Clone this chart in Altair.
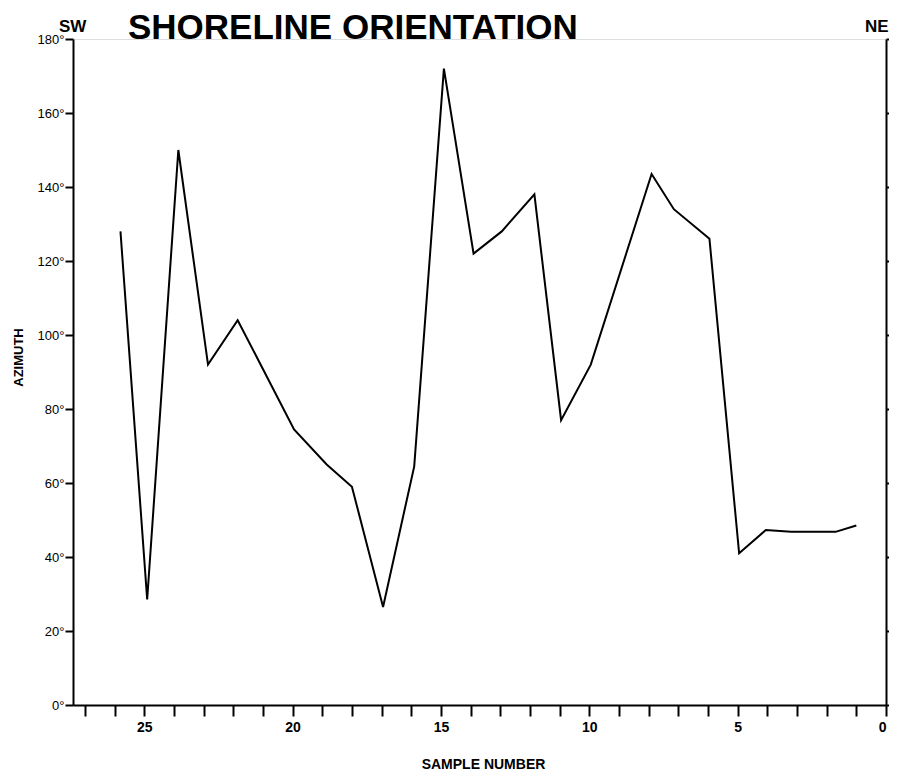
import altair as alt
import pandas as pd

# Data (sample number, azimuth in degrees)
sample = [25.8, 24.9, 23.85, 22.85, 21.85, 19.95, 18.85, 18.0, 16.95, 15.9, 14.9, 13.9,
          12.95, 11.85, 10.95, 9.95, 7.9, 7.15, 5.95, 4.95, 4.05, 3.2, 1.7, 1.0]
azimuth = [128, 28.5, 150, 92, 104, 74.5, 65, 59, 26.5, 64.5, 172, 122,
           128, 138, 77, 92, 143.5, 134, 126, 41, 47.3, 46.8, 46.8, 48.5]

y_ticks = [0, 20, 40, 60, 80, 100, 120, 140, 160, 180]
x_ticks = list(range(0, 28))

title_text = "SHORELINE  ORIENTATION"
left_dir = "SW"
right_dir = "NE"

df = pd.DataFrame({"sample": sample, "azimuth": azimuth})

FONT = "Liberation Sans"

x_enc = alt.X(
    "sample:Q",
    scale=alt.Scale(domain=[0, 27.4], reverse=True, nice=False, zero=False),
    axis=alt.Axis(
        values=x_ticks,
        labelExpr="datum.value % 5 == 0 ? datum.value : ''",
        tickSize=11, tickWidth=2, tickColor="black",
        domainColor="black", domainWidth=2,
        labelFont=FONT, labelFontSize=14, labelFontWeight="bold", labelColor="black",
        labelPadding=4, labelFlush=True, labelOverlap=False,
        grid=False,
        title="SAMPLE NUMBER", titleFont=FONT, titleFontSize=14, titleFontWeight="bold",
        titleColor="black", titleX=410, titleY=63, titleAlign="center",
        titleBaseline="alphabetic", titleAnchor="start",
    ),
)

y_left = alt.Y(
    "azimuth:Q",
    scale=alt.Scale(domain=[0, 180], nice=False),
    axis=alt.Axis(
        values=y_ticks,
        labelExpr="datum.value + '°'",
        tickSize=8, tickWidth=2, tickColor="black",
        domainColor="black", domainWidth=2,
        labelFont=FONT, labelFontSize=13, labelColor="black", labelPadding=1,
        grid=False,
        title="AZIMUTH", titleFont=FONT, titleFontSize=13, titleFontWeight="bold",
        titleColor="black", titleX=-55, titleY=318, titleAngle=270,
        titleAlign="center", titleBaseline="middle", titleAnchor="start",
    ),
)

y_right = alt.Y(
    "azimuth:Q",
    scale=alt.Scale(domain=[0, 180], nice=False),
    axis=alt.Axis(
        orient="right",
        values=y_ticks,
        labels=False,
        tickSize=8, tickWidth=2, tickColor="black",
        domainColor="black", domainWidth=2,
        grid=False,
        title="",
    ),
)

line = alt.Chart(df).mark_line(color="black", strokeWidth=2).encode(x=x_enc, y=y_left)
right_axis = alt.Chart(df).mark_line(strokeOpacity=0).encode(x=x_enc, y=y_right)

title_mark = alt.Chart(pd.DataFrame({"t": [title_text]})).mark_text(
    align="left", baseline="alphabetic", font=FONT, fontSize=35, fontWeight="bold", color="black"
).encode(x=alt.value(55), y=alt.value(0), text="t:N")

sw_mark = alt.Chart(pd.DataFrame({"t": [left_dir]})).mark_text(
    align="left", baseline="alphabetic", font=FONT, fontSize=17, fontWeight="bold", color="black"
).encode(x=alt.value(-14), y=alt.value(-7), text="t:N")

ne_mark = alt.Chart(pd.DataFrame({"t": [right_dir]})).mark_text(
    align="left", baseline="alphabetic", font=FONT, fontSize=17, fontWeight="bold", color="black"
).encode(x=alt.value(792), y=alt.value(-7), text="t:N")

chart = (
    alt.layer(line, right_axis, title_mark, sw_mark, ne_mark)
    .resolve_scale(y="independent")
    .properties(
        width=813, height=666,
        autosize=alt.AutoSizeParams(type="none"),
        padding={"left": 65, "top": 31, "right": 3, "bottom": 65},
    )
    .configure_view(strokeWidth=0)
    .configure(font=FONT, background="white")
)

chart.save("out.html", embed_options={"renderer": "svg", "actions": False})
